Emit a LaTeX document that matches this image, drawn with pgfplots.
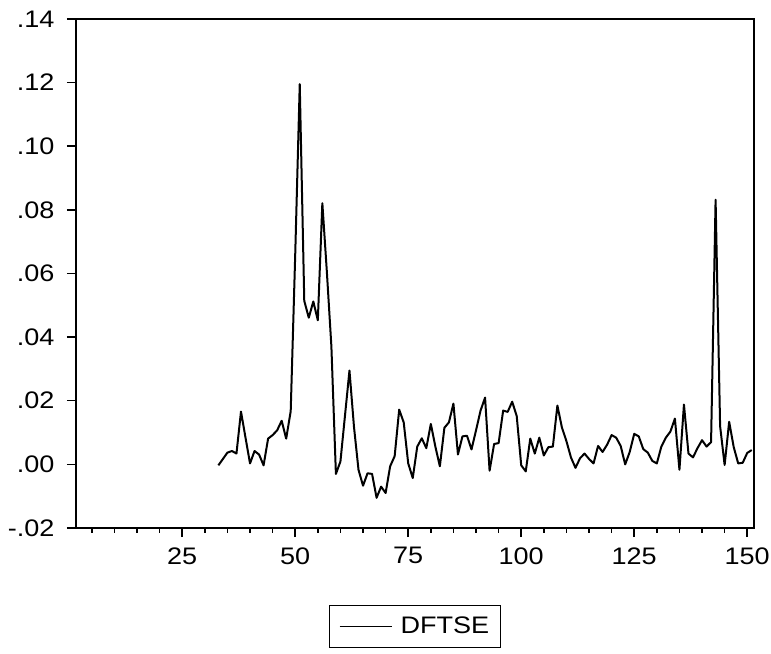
\documentclass[border=0pt]{standalone}
\usepackage{pgfplots}
\pgfplotsset{compat=1.18}
\usepackage{fontspec}
\setmainfont{Liberation Sans}[FakeStretch=1.13]
\begin{document}
\begin{tikzpicture}[x=1bp,y=1bp]
\path[use as bounding box] (-76,-126) rectangle (695,528);
\begin{axis}[
  at={(0,0)}, anchor=south west,
  scale only axis, width=678bp, height=509bp,
  xmin=1.5, xmax=151.5, ymin=-0.02, ymax=0.14,
  xtick={25,50,...,150}, minor xtick={5,10,...,150},
  ytick={-0.02,0,0.02,0.04,0.06,0.08,0.10,0.12,0.14},
  yticklabels={-.02,.00,.02,.04,.06,.08,.10,.12,.14},
  tick align=outside, xtick pos=left, ytick pos=left,
  major tick length=9bp, minor tick length=5bp,
  tick style={black, line width=1.5bp},
  axis line style={line width=1.7bp},
  /pgf/number format/assume math mode=true,
  tick label style={font=\fontsize{24}{28}\selectfont},
  yticklabel style={xshift=-9bp},
  xticklabel style={yshift=-7bp},
  legend style={at={(0.5,-0.193)}, anchor=center, draw=black, line width=1.2bp,
    font=\fontsize{24}{28}\selectfont, inner xsep=9bp, inner ysep=10bp},
  legend image code/.code={\draw[line width=1.4bp] (0bp,0bp) -- (52bp,0bp); \path (58bp,0bp);},
]
\addplot[black, line width=2bp, line join=round] coordinates {
(33,-0.0003) (34,0.0017) (35,0.0037) (36,0.0042) (37,0.0034) (38,0.0166) (39,0.0084) (40,0.0003)
(41,0.0042) (42,0.0031) (43,-0.0003) (44,0.0081) (45,0.0092) (46,0.0107) (47,0.0137) (48,0.0081)
(49,0.0167) (50,0.066) (51,0.1195) (52,0.0514) (53,0.0461) (54,0.0512) (55,0.0453) (56,0.0821)
(57,0.0605) (58,0.0371) (59,-0.0030) (60,0.0009) (61,0.0152) (62,0.0295) (63,0.0118) (64,-0.0017)
(65,-0.0067) (66,-0.0028) (67,-0.0030) (68,-0.0105) (69,-0.0070) (70,-0.0090) (71,-0.0006) (72,0.0026)
(73,0.0172) (74,0.0132) (75,0.0003) (76,-0.0043) (77,0.0056) (78,0.0082) (79,0.0051) (80,0.0127)
(81,0.0056) (82,-0.0006) (83,0.0115) (84,0.0132) (85,0.0191) (86,0.0031) (87,0.0088) (88,0.0090)
(89,0.0047) (90,0.0107) (91,0.0169) (92,0.0210) (93,-0.0020) (94,0.0064) (95,0.0067) (96,0.0169)
(97,0.0165) (98,0.0197) (99,0.0152) (100,-0.0003) (101,-0.0022) (102,0.0081) (103,0.0034) (104,0.0084)
(105,0.0028) (106,0.0054) (107,0.0056) (108,0.0185) (109,0.0116) (110,0.0073) (111,0.0022) (112,-0.0011)
(113,0.0019) (114,0.0034) (115,0.0017) (116,0.0003) (117,0.0058) (118,0.0039) (119,0.0062) (120,0.0092)
(121,0.0084) (122,0.0058) (123,0.0000) (124,0.0039) (125,0.0096) (126,0.0088) (127,0.0048) (128,0.0037)
(129,0.0011) (130,0.0003) (131,0.0056) (132,0.0084) (133,0.0103) (134,0.0144) (135,-0.0017) (136,0.0188)
(137,0.0034) (138,0.0022) (139,0.0051) (140,0.0076) (141,0.0056) (142,0.0070) (143,0.0832) (144,0.0120)
(145,-0.0002) (146,0.0134) (147,0.0055) (148,0.0003) (149,0.0005) (150,0.0036) (151,0.0045)
};
\addlegendentry{DFTSE}
\end{axis}
\end{tikzpicture}
\end{document}
